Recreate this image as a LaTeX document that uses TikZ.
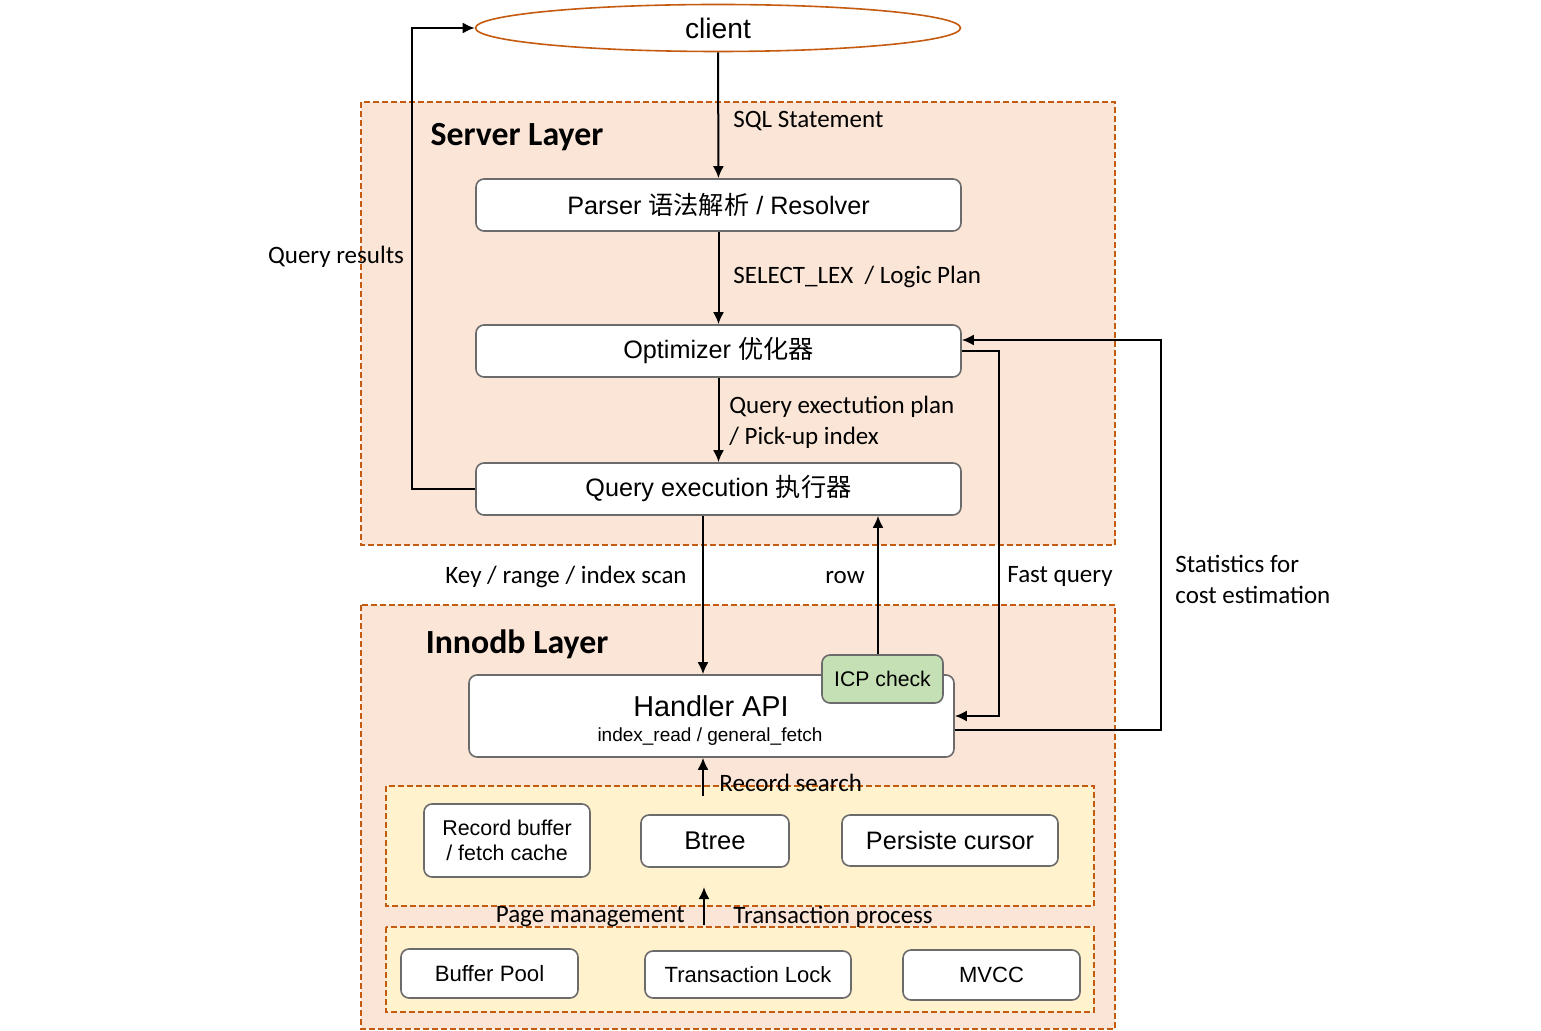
\documentclass[tikz,border=0pt]{standalone}
\usepackage{fontspec}
\setmainfont{Liberation Sans}
\newfontfamily\calibri{Carlito}
\newfontfamily\cjk{Noto Sans CJK SC}
\usetikzlibrary{arrows.meta,shapes.geometric}
\definecolor{layerfill}{HTML}{FBE5D6}
\definecolor{layerline}{HTML}{C55A11}
\definecolor{subfill}{HTML}{FFF2CC}
\definecolor{icpfill}{HTML}{C5E0B4}
\definecolor{boxline}{HTML}{6B6B6B}
\tikzstyle{layer}=[draw=layerline, fill=layerfill, dash pattern=on 3pt off 1.5pt, line width=0.7pt]
\tikzstyle{sublayer}=[layer, fill=subfill]
\tikzstyle{box}=[rectangle, rounded corners=4pt, draw=boxline, fill=white, line width=0.8pt, inner sep=0pt, font=\fontsize{12.6}{14}\selectfont]
\tikzstyle{title}=[font=\calibri\bfseries\fontsize{16.9}{19}\selectfont, inner sep=0pt]
\tikzstyle{note}=[font=\calibri\fontsize{12.5}{15.5}\selectfont, inner sep=0pt]
\tikzstyle{arrow}=[draw=black, line width=1pt, >={Latex[length=6pt,width=5.5pt]}]

\begin{document}
\begin{tikzpicture}[x=0.5pt, y=-0.5pt]
	\useasboundingbox (0,0) rectangle (1541,1031);
	\begin{scope}
		\draw [layer] (361,102) rectangle (1115,545);
		\draw [layer] (361,605) rectangle (1115,1029);
		\draw [sublayer] (386,786) rectangle (1094,906);
		\draw [sublayer] (386,927) rectangle (1094,1012);
		\node (server) at (517,137) [title] {Server Layer};
		\node (innodb) at (517,644) [title] {Innodb Layer};
	\end{scope}
	\begin{scope}
		\node (client) at (718,28) [ellipse, draw=layerline, line width=0.8pt, minimum width=242.5pt, minimum height=23.5pt, inner sep=0pt, font=\fontsize{14.1}{16}\selectfont] {client};
		\node (parser) at (718.5,205) [box, minimum width=242.5pt, minimum height=26pt] {Parser {\cjk 语法解析} / Resolver};
		\node (optimizer) at (718.5,351) [box, minimum width=242.5pt, minimum height=26pt] {Optimizer {\cjk 优化器}};
		\node (exec) at (718.5,489) [box, minimum width=242.5pt, minimum height=26pt] {Query execution {\cjk 执行器}};
		\node (handler) at (711.5,716) [box, minimum width=242.5pt, minimum height=41pt] {};
		\node (handlertitle) at (711,706) [inner sep=0pt, font=\fontsize{14.4}{16}\selectfont] {Handler API};
		\node (handlersub) at (710,736.5) [inner sep=0pt, font=\fontsize{9.5}{11}\selectfont] {index\_read / general\_fetch};
		\node (icp) at (882.5,679) [box, fill=icpfill, minimum width=60.5pt, minimum height=24pt, font=\fontsize{10.6}{13}\selectfont] {ICP check};
		\node (recbuf) at (507,840.5) [box, minimum width=83pt, minimum height=36.5pt, align=center, font=\fontsize{10.7}{12.5}\selectfont] {Record buffer\\/ fetch cache};
		\node (btree) at (715,841) [box, minimum width=74pt, minimum height=26pt, font=\fontsize{12.8}{14}\selectfont] {Btree};
		\node (cursor) at (950,840.5) [box, minimum width=108pt, minimum height=25.5pt] {Persiste cursor};
		\node (bufpool) at (489.5,973.5) [box, minimum width=88.5pt, minimum height=24.5pt, font=\fontsize{11.1}{13}\selectfont] {Buffer Pool};
		\node (txlock) at (748,974.5) [box, minimum width=103pt, minimum height=23.5pt, font=\fontsize{11}{13}\selectfont] {Transaction Lock};
		\node (mvcc) at (991.5,975) [box, minimum width=88.5pt, minimum height=25pt, font=\fontsize{11}{13}\selectfont] {MVCC};
		\coordinate (kx) at (703,0);
		\coordinate (rx) at (878,0);
		\coordinate (rs) at (703,796);
		\coordinate (pm) at (704,925);
		\coordinate (pmtop) at (704,887);
	\end{scope}
	\begin{scope}
		\path [arrow, ->] (client) edge (parser);
		\path [arrow, ->] (parser) edge (optimizer);
		\path [arrow, ->] (optimizer) edge (exec);
		\draw [arrow, ->] (exec.west) -- ++(-63,0) |- (client.west);
		\draw [arrow, ->] (exec.south -| kx) -- (handler.north -| kx);
		\draw [arrow, ->] (icp.north -| rx) -- (exec.south -| rx);
		\draw [arrow, ->] (optimizer.east) -- ++(37,0) |- (handler.east);
		\draw [arrow, ->] ([yshift=-7pt]handler.east) -- ++(206,0) |- ([yshift=5.5pt]optimizer.east);
		\draw [arrow, ->] (rs) -- (rs |- handler.south);
		\draw [arrow, ->] (pm) -- (pmtop);
	\end{scope}
	\begin{scope}
		\node (sql) at (733,121) [note, anchor=west] {SQL Statement};
		\node (lex) at (733,277) [note, anchor=west] {SELECT\_LEX\ \ / Logic Plan};
		\node (plan) at (729,422.5) [note, anchor=west, align=left] {Query exectution plan\\/ Pick-up index};
		\node (results) at (336,257) [note] {Query results};
		\node (scan) at (566,577) [note] {Key / range / index scan};
		\node (row) at (845,578) [note] {row};
		\node (fast) at (1060,576) [note] {Fast query};
		\node (stats) at (1175,579) [note, anchor=west, align=left] {Statistics for\\cost estimation};
		\node (search) at (719,783) [note, anchor=west] {Record search};
		\node (page) at (685,917) [note, anchor=east] {Page management};
		\node (trans) at (733,917) [note, anchor=west] {Transaction process};
	\end{scope}
\end{tikzpicture}
\end{document}
